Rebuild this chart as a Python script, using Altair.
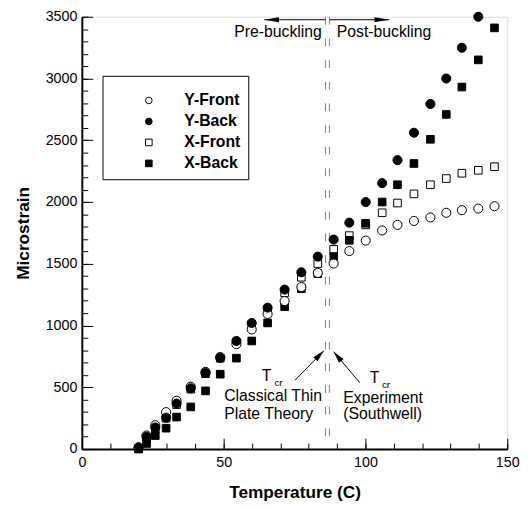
import altair as alt
import pandas as pd

FONT = "Liberation Sans"

# ---------------- data ----------------
series_names = ["Y-Front", "Y-Back", "X-Front", "X-Back"]
temps = [20.0, 22.8, 25.9, 29.7, 33.4, 38.4, 43.6, 48.8, 54.5, 59.9, 65.5, 71.5,
         77.4, 83.2, 88.8, 94.3, 100.1, 105.9, 111.3, 117.1, 122.9, 128.5, 134.0, 139.8, 145.5]
y_front = [15, 110, 193, 299, 391, 505, 625, 745, 849, 968, 1093, 1198,
           1312, 1426, 1502, 1603, 1688, 1770, 1815, 1847, 1875, 1913, 1934, 1947, 1966]
y_back = [10, 100, 175, 254, 368, 492, 616, 738, 875, 1021, 1145, 1291,
          1431, 1558, 1696, 1833, 2000, 2153, 2339, 2561, 2794, 3000, 3249, 3500]
x_front = [5, 85, 165, 250, 360, 485, 610, 735, 865, 1005, 1130, 1265,
           1391, 1502, 1617, 1728, 1815, 1913, 1992, 2066, 2140, 2190, 2233, 2257, 2286]
x_back = [0, 45, 109, 169, 259, 341, 471, 606, 736, 875, 1021, 1153,
          1299, 1420, 1558, 1690, 1828, 2000, 2140, 2312, 2508, 2709, 2931, 3151, 3410]

x_major = [0, 50, 100, 150]
x_minor = list(range(0, 151, 10))
y_major = list(range(0, 3501, 500))
y_minor = list(range(0, 3501, 100))

tcr_temps = [85.9, 87.3]          # two dashed critical-temperature lines
strain_top = 3500
strain_bottom = 0

# annotation texts (temperature, strain)
big_texts = ["Pre-buckling", "Post-buckling", "T", "Classical Thin", "Plate Theory",
             "T", "Experiment", "(Southwell)"]
big_T = [84.6, 89.9, 63.4, 50.2, 50.2, 101.5, 92.2, 92.2]
big_S = [3373, 3373, 587, 426, 286, 571, 413, 286]
big_align = ["right", "left", "left", "left", "left", "left", "left", "left"]
sub_texts = ["cr", "cr"]
sub_T = [67.9, 105.8]
sub_S = [536, 522]

# arrows: tail (T, S) -> head (T, S)
arrow_tail_T = [85.9, 87.3, 75.2, 98.0]
arrow_tail_S = [3476, 3476, 558, 537]
arrow_head_T = [64.3, 108.4, 85.3, 88.8]
arrow_head_S = [3476, 3476, 796, 788]
arrow_angle = [180, 0, 314, 230]

# ---------------- tables ----------------
rows = []
for name, vals in [("Y-Front", y_front), ("X-Front", x_front), ("X-Back", x_back), ("Y-Back", y_back)]:
    for t, v in zip(temps, vals):
        rows.append({"T": t, "S": v, "series": name})
df = pd.DataFrame(rows)

xscale = alt.Scale(domain=[0, 150], nice=False, zero=False)
yscale = alt.Scale(domain=[0, 3500], nice=False, zero=False)
shape_scale = alt.Scale(domain=series_names, range=["circle", "circle", "square", "square"])
fill_scale = alt.Scale(domain=series_names, range=["white", "black", "white", "black"])
stroke_scale = alt.Scale(domain=series_names, range=["black", "black", "black", "black"])

legend = alt.Legend(title="\u00a0", titleFontSize=8, titlePadding=1,
                    orient="none", legendX=21, legendY=60,
                    strokeColor="black", fillColor="white", padding=8,
                    symbolOffset=31, labelOffset=28, rowPadding=5.3,
                    symbolSize=45, symbolStrokeWidth=1,
                    labelFont=FONT, labelFontSize=16, labelFontWeight="bold",
                    labelColor="black", labelExpr="datum.label + '\u2009\u2009'")

x_main_axis = alt.Axis(values=x_major, ticks=False, tickSize=0, domainColor="black", domainWidth=2,
                       labelFont=FONT, labelFontSize=14.5, labelColor="black", labelPadding=7,
                       labelFlush=False, grid=False, orient="bottom", format="d",
                       title="Temperature (C)", titleFont=FONT, titleFontSize=17.5,
                       titleFontWeight="bold", titleColor="black", titlePadding=15)
y_main_axis = alt.Axis(values=y_major, ticks=False, tickSize=0, domainColor="black", domainWidth=2,
                       labelFont=FONT, labelFontSize=14.5, labelColor="black", labelPadding=5,
                       labelFlush=False, grid=False, orient="left", format="d",
                       title="Microstrain", titleFont=FONT, titleFontSize=17.5,
                       titleFontWeight="bold", titleColor="black", titlePadding=13)


def series_layer(names, size, with_axes):
    sub = df[df["series"].isin(names)]
    return alt.Chart(sub).mark_point(filled=True, strokeWidth=1, opacity=1,
                                     size=size).encode(
        x=alt.X("T:Q", scale=xscale, axis=x_main_axis if with_axes else None),
        y=alt.Y("S:Q", scale=yscale, axis=y_main_axis if with_axes else None),
        shape=alt.Shape("series:N", scale=shape_scale, legend=legend),
        fill=alt.Fill("series:N", scale=fill_scale, legend=legend),
        stroke=alt.Stroke("series:N", scale=stroke_scale, legend=legend),
    )


squares = series_layer(["X-Front", "X-Back"], 60, True)
circles = series_layer(["Y-Front", "Y-Back"], 85, False)


def tick_layer(xvals, yvals, length):
    return alt.Chart(df).mark_point(opacity=0).encode(
        x=alt.X("T:Q", scale=xscale,
                axis=alt.Axis(values=xvals, offset=-length, tickSize=length, tickColor="black",
                              tickWidth=1, labels=False, domain=False, grid=False, title=None,
                              orient="bottom")),
        y=alt.Y("S:Q", scale=yscale,
                axis=alt.Axis(values=yvals, offset=-length, tickSize=length, tickColor="black",
                              tickWidth=1, labels=False, domain=False, grid=False, title=None,
                              orient="left")),
    )


major_ticks = tick_layer(x_major, y_major, 11)
minor_ticks = tick_layer(x_minor, y_minor, 6)

tcr_df = pd.DataFrame({"T": tcr_temps, "top": [strain_top] * 2, "bottom": [strain_bottom] * 2})
dashed = alt.Chart(tcr_df).mark_rule(color="#808080", strokeWidth=1, strokeDash=[8, 14]).encode(
    x=alt.X("T:Q", scale=xscale, axis=None),
    y=alt.Y("top:Q", scale=yscale, axis=None),
    y2="bottom:Q",
)

arrows_df = pd.DataFrame({"t0": arrow_tail_T, "s0": arrow_tail_S,
                          "t1": arrow_head_T, "s1": arrow_head_S, "ang": arrow_angle})
arrow_lines = alt.Chart(arrows_df).mark_rule(color="black", strokeWidth=1).encode(
    x=alt.X("t0:Q", scale=xscale, axis=None),
    y=alt.Y("s0:Q", scale=yscale, axis=None),
    x2="t1:Q", y2="s1:Q",
)

heads = []
for i in range(len(arrow_angle)):
    slim = i < 2
    heads.append(
        alt.Chart(arrows_df.iloc[[i]]).mark_point(
            shape="M0,0L-2,-0.33L-2,0.33Z" if slim else "M0,0L-2,-0.5L-2,0.5Z",
            filled=True, color="black", opacity=1, strokeWidth=0,
            size=225 if slim else 144, angle=arrow_angle[i]).encode(
            x=alt.X("t1:Q", scale=xscale, axis=None),
            y=alt.Y("s1:Q", scale=yscale, axis=None),
        )
    )

big_df = pd.DataFrame({"txt": big_texts, "T": big_T, "S": big_S, "al": big_align})
texts = []
for al in ["left", "right"]:
    sub = big_df[big_df["al"] == al]
    texts.append(alt.Chart(sub).mark_text(align=al, baseline="middle", font=FONT, fontSize=16,
                                          color="black").encode(
        x=alt.X("T:Q", scale=xscale, axis=None),
        y=alt.Y("S:Q", scale=yscale, axis=None),
        text="txt:N"))
sub_df = pd.DataFrame({"txt": sub_texts, "T": sub_T, "S": sub_S})
texts.append(alt.Chart(sub_df).mark_text(align="left", baseline="middle", font=FONT, fontSize=10,
                                         color="black").encode(
    x=alt.X("T:Q", scale=xscale, axis=None),
    y=alt.Y("S:Q", scale=yscale, axis=None),
    text="txt:N"))

chart = alt.layer(squares, major_ticks, minor_ticks, dashed, arrow_lines, *heads, *texts,
                  circles).resolve_axis(
    x="independent", y="independent"
).properties(
    width=432, height=439,
    autosize=alt.AutoSizeParams(type="none"),
    padding={"left": 75, "top": 5, "right": 16, "bottom": 58},
).configure_view(stroke=None).configure(font=FONT)

chart.save("out.html", embed_options={"renderer": "svg", "actions": False})
